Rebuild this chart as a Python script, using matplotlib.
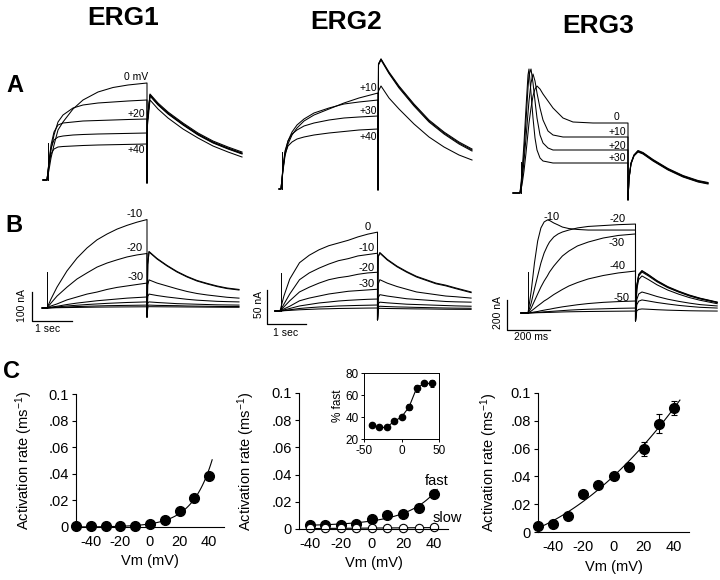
import numpy as np
import matplotlib.pyplot as plt

plt.rcParams['font.family'] = ['Liberation Sans', 'DejaVu Sans']
plt.rcParams['mathtext.fontset'] = 'custom'
plt.rcParams['mathtext.rm'] = 'Liberation Sans'
plt.rcParams['mathtext.it'] = 'Liberation Sans:italic'
plt.rcParams['axes.unicode_minus'] = False

# ---------------- A: current traces (arbitrary units) ----------------
# ERG1, steps to 0, +10, +20, +30, +40 mV
a1_t_on = [0, 4, 6, 8, 11, 15, 20, 30, 40, 55, 70, 85, 104]
a1_on = [
    [0, 0, 10, 22, 35, 50, 58, 71, 80, 88, 92.5, 95, 97],
    [0, 0, 15, 30, 45, 58, 65, 72, 75, 77, 78, 79, 80],
    [0, 0, 18, 35, 48, 55, 57, 58, 59, 59.5, 60, 60.5, 61],
    [0, 0, 18, 32, 40, 43, 44, 45, 45.5, 46, 46.3, 46.6, 47],
    [0, 0, 16, 26, 31, 33, 33.5, 34, 34.5, 35, 35.3, 35.6, 36],
]
a1_t_off = [104, 104.5, 107, 115, 125, 140, 155, 170, 185, 199]
a1_off = [
    [-3, 60, 86, 77, 68, 57, 47, 39, 33, 28],
    [-3, 60, 85, 76, 67, 56, 46, 38, 32, 27],
    [-3, 60, 85, 75.5, 66.5, 55.5, 45.5, 37.5, 31.5, 26.5],
    [-3, 60, 84, 75, 66, 55, 45, 37, 31, 26],
    [-3, 55, 80, 71, 62, 51, 42, 34, 28, 23],
]
a1_spike = (5, 37)

# ERG2, steps to +10, +20, +30, +40 mV
a2_t_on = [0, 2, 4, 6, 9, 13, 18, 25, 35, 50, 65, 80, 99]
a2_on = [
    [0, 0, 18, 33, 45, 54, 61, 68, 74, 80, 86, 91, 96],
    [0, 0, 20, 36, 48, 57, 64, 70, 76, 81, 85, 87, 89],
    [0, 0, 22, 38, 48, 55, 59, 63, 66, 69, 71, 72, 73],
    [0, 0, 20, 35, 43, 47, 50, 52, 54, 56, 57.5, 59, 60],
]
a2_t_off = [99, 99.5, 102, 110, 120, 135, 150, 165, 180, 193]
a2_off = [
    [-1, 125, 130, 117, 103, 85, 69, 57, 47, 40],
    [-1, 125, 130, 116, 102, 84, 68, 56, 46, 39],
    [-1, 124, 129, 115.5, 101, 83, 67, 55, 45, 38],
    [-1, 98, 103, 91, 80, 65, 52, 42, 34, 29],
]
a2_spike = (3, 37)

# ERG3, steps to 0, +10, +20, +30 mV
a3_t_on = [0, 7, 9, 11, 13, 15, 16, 18, 20, 22, 24, 27, 30, 35, 40, 50, 60, 80, 115]
a3_on = [
    [0, 0, 8, 22, 40, 60, 70, 85, 97, 104, 107, 104, 99, 92, 85, 75, 71, 70, 70],
    [0, 0, 12, 32, 55, 80, 92, 110, 119, 112, 100, 85, 73, 62, 58, 56, 56, 56, 56],
    [0, 0, 15, 40, 72, 105, 118, 124, 110, 92, 75, 58, 50, 45, 43, 43, 43, 43, 43],
    [0, 0, 20, 50, 85, 118, 124, 100, 75, 55, 43, 35, 32, 31, 30, 30, 30, 30, 30],
]
a3_t_off = [115, 116, 118, 121, 125, 130, 140, 155, 170, 185, 195]
a3_off = [
    [-7, 15, 30, 38, 42, 40, 33, 24, 17, 12, 10],
    [-7, 15, 30, 38, 42.5, 40.5, 33.5, 24.5, 17.5, 12.5, 10.5],
    [-7, 14, 29, 37.5, 41.5, 39.5, 32.5, 23.5, 16.5, 11.5, 9.5],
    [-7, 14, 29, 37, 41, 39, 32, 23, 16, 11, 9],
]
a3_spike = (8, 31)

# ---------------- B: current traces (s / ms, nA) ----------------
b1_t_on = [-0.12, 0, 0.1, 0.25, 0.5, 0.75, 1.0, 1.25, 1.5, 1.75, 2.0, 2.25, 2.5]
b1_on = [
    [0, 0, 31, 72, 128, 172, 207, 235, 255, 272, 285, 296, 305],
    [0, 0, 17, 41, 72, 100, 121, 141, 155, 166, 176, 183, 188],
    [0, 0, 7, 14, 28, 38, 48, 55, 64, 71, 76, 81, 86],
    [0, 0, 3, 6, 12, 17, 21, 25, 28, 31, 34, 36, 38],
    [0, 0, 1.5, 3.5, 7, 9.5, 12, 14, 16, 17.5, 19, 20, 21],
    [0, 0, 1, 2, 3.5, 5, 6, 7, 8, 8.5, 9, 9.5, 10],
    [0, 0, 0.5, 1, 1.5, 2, 2.5, 3, 3.3, 3.6, 3.8, 4, 4.2],
]
b1_t_off = [2.5, 2.52, 2.55, 2.75, 3.0, 3.25, 3.5, 3.75, 4.0, 4.25, 4.5, 4.8]
b1_off = [
    [-31, 150, 195, 171, 147, 126, 109, 95, 85, 76, 69, 64],
    [-31, 150, 193, 169, 145, 124, 107, 93, 83, 74, 67, 62],
    [-31, 80, 97, 86, 76, 66, 57, 50, 45, 41, 37, 34],
    [-31, 40, 48, 43, 38, 34, 30, 27, 25, 23, 22, 21],
    [-31, 18, 21, 19, 17, 15, 14, 13, 12, 11, 10.5, 10],
    [-31, 9, 10, 9, 8.5, 8, 7, 6.5, 6, 5.5, 5, 5],
    [-31, 4, 4.5, 4.3, 4, 3.8, 3.5, 3.3, 3, 2.8, 2.6, 2.5],
]
b1_spike = (0, 124)

b2_t_on = [-0.13, 0, 0.1, 0.25, 0.5, 0.75, 1.0, 1.25, 1.5, 1.75, 2.0, 2.25, 2.5]
b2_on = [
    [0, 0, 22, 47, 71, 82, 90, 96, 100, 104, 109, 113, 116],
    [0, 0, 10, 25, 46, 56, 63, 69, 74, 77, 81, 83, 85],
    [0, 0, 6, 15, 28, 35, 41, 46, 49, 51, 54, 56, 57],
    [0, 0, 3, 7, 15, 19, 22, 25, 27, 29, 30, 31, 32],
    [0, 0, 1.5, 3.7, 7.4, 9.6, 11.8, 13.2, 14.7, 15.7, 16.5, 17.2, 17.6],
    [0, 0, 0.7, 1.8, 3.7, 4.9, 5.9, 6.6, 7.4, 7.8, 8.2, 8.5, 8.8],
    [0, 0, 0.4, 0.9, 1.8, 2.4, 3, 3.3, 3.7, 3.9, 4.1, 4.3, 4.4],
]
b2_t_off = [2.5, 2.52, 2.56, 2.75, 3.0, 3.25, 3.5, 3.75, 4.0, 4.25, 4.5, 4.9]
b2_off = [
    [-13, 80, 86, 76, 66, 58, 51, 46, 41, 38, 34, 28],
    [-13, 80, 85, 75, 65, 57, 50, 45, 40, 37, 33, 27],
    [-13, 40, 46, 41, 36, 32, 28, 26, 24, 22, 21, 19],
    [-13, 20, 24, 22, 20, 18, 17, 16, 15, 14, 13.5, 13],
    [-13, 11, 13, 12, 11, 10, 9.5, 9, 8.5, 8, 7.5, 7],
    [-13, 6, 7, 6.5, 6, 5.7, 5.3, 5, 4.7, 4.4, 4.2, 4],
    [-13, 3.5, 4, 3.7, 3.5, 3.3, 3.1, 3, 2.8, 2.6, 2.5, 2.4],
]
b2_spike = (0.03, 56)

b3_t_on = [-33, 0, 15, 30, 45, 60, 75, 90, 100, 120, 140, 160, 190, 230, 280, 350, 420, 500]
b3_on = [
    [0, 0, 147, 333, 480, 567, 607, 620, 617, 600, 587, 573, 563, 557, 553, 553, 553, 553],
    [0, 0, 67, 160, 247, 333, 400, 447, 473, 507, 527, 540, 553, 567, 577, 583, 589, 593],
    [0, 0, 33, 80, 127, 173, 213, 247, 273, 313, 347, 380, 413, 447, 473, 500, 517, 527],
    [0, 0, 13, 30, 47, 63, 80, 93, 103, 123, 140, 157, 180, 203, 227, 250, 267, 280],
    [0, 0, 3, 7, 10, 15, 19, 23, 25, 31, 36, 41, 47, 55, 63, 71, 76, 80],
    [0, 0, 1, 3, 4, 6, 8, 9, 10, 12, 14, 16, 19, 22, 25, 28, 31, 33],
    [0, 0, 0.5, 1, 2, 2.5, 3, 4, 4, 5, 6, 7, 8, 9, 10, 11, 12, 13],
]
b3_t_off = [500, 506, 515, 530, 560, 600, 650, 700, 750, 800, 880]
b3_off = [
    [-53, 180, 255, 280, 253, 213, 173, 143, 117, 97, 71],
    [-53, 183, 258, 283, 256, 216, 176, 146, 120, 99, 73],
    [-53, 175, 247, 273, 247, 208, 169, 140, 114, 94, 69],
    [-53, 158, 223, 247, 223, 188, 153, 126, 103, 85, 62],
    [-53, 90, 127, 140, 128, 110, 92, 78, 66, 56, 47],
    [-53, 55, 79, 87, 80, 70, 60, 51, 44, 38, 33],
    [-53, 15, 24, 27, 25, 22, 19, 17, 15, 14, 13],
]
b3_spike = (0, 273)

# ---------------- C: activation rates ----------------
vm1 = [-50, -40, -30, -20, -10, 0, 10, 20, 30, 40]
rate1 = [0.001, 0.0005, 0.0005, 0.0005, 0.001, 0.002, 0.0055, 0.012, 0.022, 0.038]
err1 = [0, 0, 0, 0, 0, 0, 0, 0, 0.001, 0.002]

vm2 = [-40, -30, -20, -10, 0, 10, 20, 30, 40]
fast2 = [0.0033, 0.003, 0.003, 0.0038, 0.0074, 0.0102, 0.011, 0.0157, 0.026]
slow2 = [0.0005, 0.0005, 0.0005, 0.0005, 0.0005, 0.0005, 0.001, 0.001, 0.0012]
slow_err2 = [0.0008] * 9
pct_fast = [33, 30.5, 30.5, 36, 40, 49, 66, 70.5, 70.5]
pct_err = [1, 1, 1, 1, 1, 3, 3, 2, 3]

vm3 = [-50, -40, -30, -20, -10, 0, 10, 20, 30, 40]
rate3 = [0.004, 0.0055, 0.0115, 0.0275, 0.0335, 0.040, 0.047, 0.0595, 0.078, 0.0895]
err3 = [0, 0, 0.001, 0.001, 0.001, 0.002, 0.003, 0.005, 0.007, 0.005]

rate_ticks = [0, 0.02, 0.04, 0.06, 0.08, 0.1]
rate_labels = ['0', '.02', '.04', '.06', '.08', '0.1']
vm_ticks = [-40, -20, 0, 20, 40]

# ---------------- layout helpers (pixel boxes) ----------------
W, H = 720, 580
fig = plt.figure(figsize=(7.2, 5.8), dpi=100)


def px_axes(x0, y0, x1, y1):
    return fig.add_axes([x0 / W, 1 - y1 / H, (x1 - x0) / W, (y1 - y0) / H])


def ftext(x, y, s, **kw):
    kw.setdefault('ha', 'center')
    kw.setdefault('va', 'center')
    fig.text(x / W, 1 - y / H, s, **kw)


def trace_axes(box, origin, scale):
    x0, y0, x1, y1 = box
    ox, oy = origin
    sx, sy = scale
    ax = px_axes(x0, y0, x1, y1)
    ax.set_xlim((x0 - ox) / sx, (x1 - ox) / sx)
    ax.set_ylim((oy - y1) / sy, (oy - y0) / sy)
    ax.axis('off')
    return ax


def draw_traces(ax, t_on, on, t_off, off, spike):
    for a, b in zip(on, off):
        ax.plot(list(t_on) + list(t_off), list(a) + list(b), color='k', lw=0.75)
    ax.plot([spike[0], spike[0]], [0, spike[1]], color='k', lw=0.7)


def scale_bar(ax, corner, dt, di):
    x, y = corner
    ax.plot([x, x, x + dt], [y + di, y, y], color='k', lw=0.9)


def rate_axes(box, xlim):
    ax = px_axes(*box)
    ax.set_xlim(*xlim)
    ax.set_ylim(0, 0.1)
    ax.spines['top'].set_visible(False)
    ax.spines['right'].set_visible(False)
    ax.spines['left'].set_linewidth(0.8)
    ax.spines['bottom'].set_linewidth(0.8)
    ax.set_yticks(rate_ticks)
    ax.set_yticklabels(rate_labels)
    ax.set_xticks(vm_ticks)
    ax.tick_params(labelsize=10.5, length=3, width=0.8, pad=2)
    ax.tick_params(axis='x', length=0, pad=6)
    ax.set_xlabel('Vm (mV)', fontsize=10.5)
    ax.set_ylabel('Activation rate (ms$^{-1}$)', fontsize=10.5)
    ax.xaxis.set_label_coords(0.5, -0.2)
    return ax


def exp_fit(v, r, deg, lo, hi):
    c = np.polyfit(v, np.log(r), deg)
    vv = np.linspace(lo, hi, 100)
    return vv, np.exp(np.polyval(c, vv))


# ---------------- headings ----------------
ftext(123, 18, 'ERG1', fontsize=19, fontweight='bold')
ftext(346, 22, 'ERG2', fontsize=19, fontweight='bold')
ftext(598, 26, 'ERG3', fontsize=19, fontweight='bold')
ftext(15, 85, 'A', fontsize=17, fontweight='bold')
ftext(14, 225, 'B', fontsize=17, fontweight='bold')
ftext(12, 372, 'C', fontsize=17, fontweight='bold')

# ---------------- row A ----------------
ax = trace_axes((30, 65, 250, 195), (43, 180), (1, 1))
draw_traces(ax, a1_t_on, a1_on, a1_t_off, a1_off, a1_spike)
ftext(148, 77, '0 mV', fontsize=7.5, ha='right')
ftext(145, 114, '+20', fontsize=7.5, ha='right')
ftext(145, 150, '+40', fontsize=7.5, ha='right')

ax = trace_axes((265, 45, 485, 205), (279, 189), (1, 1))
draw_traces(ax, a2_t_on, a2_on, a2_t_off, a2_off, a2_spike)
ftext(377, 88, '+10', fontsize=7.5, ha='right')
ftext(377, 111, '+30', fontsize=7.5, ha='right')
ftext(377, 137, '+40', fontsize=7.5, ha='right')

ax = trace_axes((500, 55, 720, 205), (513, 193), (1, 1))
draw_traces(ax, a3_t_on, a3_on, a3_t_off, a3_off, a3_spike)
ftext(619, 117, '0', fontsize=7.5, ha='right')
ftext(626, 132, '+10', fontsize=7.5, ha='right')
ftext(626, 146, '+20', fontsize=7.5, ha='right')
ftext(626, 158, '+30', fontsize=7.5, ha='right')

# ---------------- row B ----------------
ax = trace_axes((10, 205, 250, 340), (47, 308), (40, 0.29))
draw_traces(ax, b1_t_on, b1_on, b1_t_off, b1_off, b1_spike)
scale_bar(ax, (-0.375, -45), 1, 100)
ftext(135, 214, '-10', fontsize=8)
ftext(135, 248, '-20', fontsize=8)
ftext(136, 277, '-30', fontsize=8)
ftext(22, 306, '100 nA', fontsize=7.5, rotation=90)
ftext(48, 329, '1 sec', fontsize=7.5)

ax = trace_axes((250, 205, 490, 345), (280, 311), (39, 0.68))
draw_traces(ax, b2_t_on, b2_on, b2_t_off, b2_off, b2_spike)
scale_bar(ax, (-0.333, -19), 1, 50)
ftext(368, 227, '0', fontsize=8)
ftext(367, 248, '-10', fontsize=8)
ftext(367, 268, '-20', fontsize=8)
ftext(367, 284, '-30', fontsize=8)
ftext(259, 304, '50 nA', fontsize=7.5, rotation=90)
ftext(286, 333, '1 sec', fontsize=7.5)

ax = trace_axes((490, 200, 720, 345), (528, 313), (0.215, 0.15))
draw_traces(ax, b3_t_on, b3_on, b3_t_off, b3_off, b3_spike)
scale_bar(ax, (-98, -113), 200, 200)
ftext(552, 217, '-10', fontsize=8)
ftext(618, 219, '-20', fontsize=8)
ftext(617, 243, '-30', fontsize=8)
ftext(617, 266, '-40', fontsize=8)
ftext(621, 298, '-50', fontsize=8)
ftext(498, 313, '200 nA', fontsize=7.5, rotation=90)
ftext(531, 337, '200 ms', fontsize=7.5)

# ---------------- row C ----------------
c1 = rate_axes((76, 394, 224, 527), (-50, 50))
c1.yaxis.set_label_coords(-0.28, 0.5)
# exponential fit through the points from 0 mV upward
pos = [i for i, v in enumerate(vm1) if v >= 0]
vv, ff = exp_fit([vm1[i] for i in pos], [rate1[i] for i in pos], 1, -50, 42)
c1.plot(vv, ff, color='k', lw=0.8)
c1.errorbar(vm1, rate1, yerr=err1, fmt='o', color='k', ms=7, capsize=2,
            elinewidth=0.8, capthick=0.8, clip_on=False)

c2 = rate_axes((299, 393, 448, 529), (-47, 49))
c2.yaxis.set_label_coords(-0.28, 0.5)
vv, ff = exp_fit(vm2, fast2, 2, -40, 42)
c2.plot(vv, ff, color='k', lw=0.8)
cs = np.polyfit(vm2, slow2, 1)
vv = np.linspace(-40, 40, 50)
c2.plot(vv, np.polyval(cs, vv), color='k', lw=0.8)
c2.errorbar(vm2, slow2, yerr=slow_err2, fmt='o', mfc='white', mec='k', mew=0.8,
            color='k', ms=6, capsize=1.5, elinewidth=0.8, clip_on=False)
c2.plot(vm2, fast2, 'o', color='k', ms=7, clip_on=False)
ftext(437, 481, 'fast', fontsize=10.5)
ftext(447, 518, 'slow', fontsize=10.5)

ins = px_axes(364, 373, 439, 439)
ins.set_xlim(-50, 50)
ins.set_ylim(20, 80)
ins.set_xticks([-50, 0, 50])
ins.set_yticks([20, 40, 60, 80])
ins.tick_params(labelsize=8.5, length=2.5, width=0.7, pad=1.5)
for s in ins.spines.values():
    s.set_linewidth(0.7)
ins.plot(vm2, pct_fast, color='k', lw=0.8)
ins.errorbar(vm2, pct_fast, yerr=pct_err, fmt='o', color='k', ms=4.5, capsize=1.5,
             elinewidth=0.7, capthick=0.7)
ins.set_ylabel('% fast', fontsize=8.5, labelpad=1)

c3 = rate_axes((538, 393, 689, 532), (-50, 50))
c3.yaxis.set_label_coords(-0.25, 0.5)
cq = np.polyfit(vm3, rate3, 2)
vv = np.linspace(-50, 44, 100)
c3.plot(vv, np.polyval(cq, vv), color='k', lw=0.8)
c3.errorbar(vm3, rate3, yerr=err3, fmt='o', color='k', ms=7, capsize=2,
            elinewidth=0.8, capthick=0.8, clip_on=False)

fig.savefig('out.png', dpi=100)
